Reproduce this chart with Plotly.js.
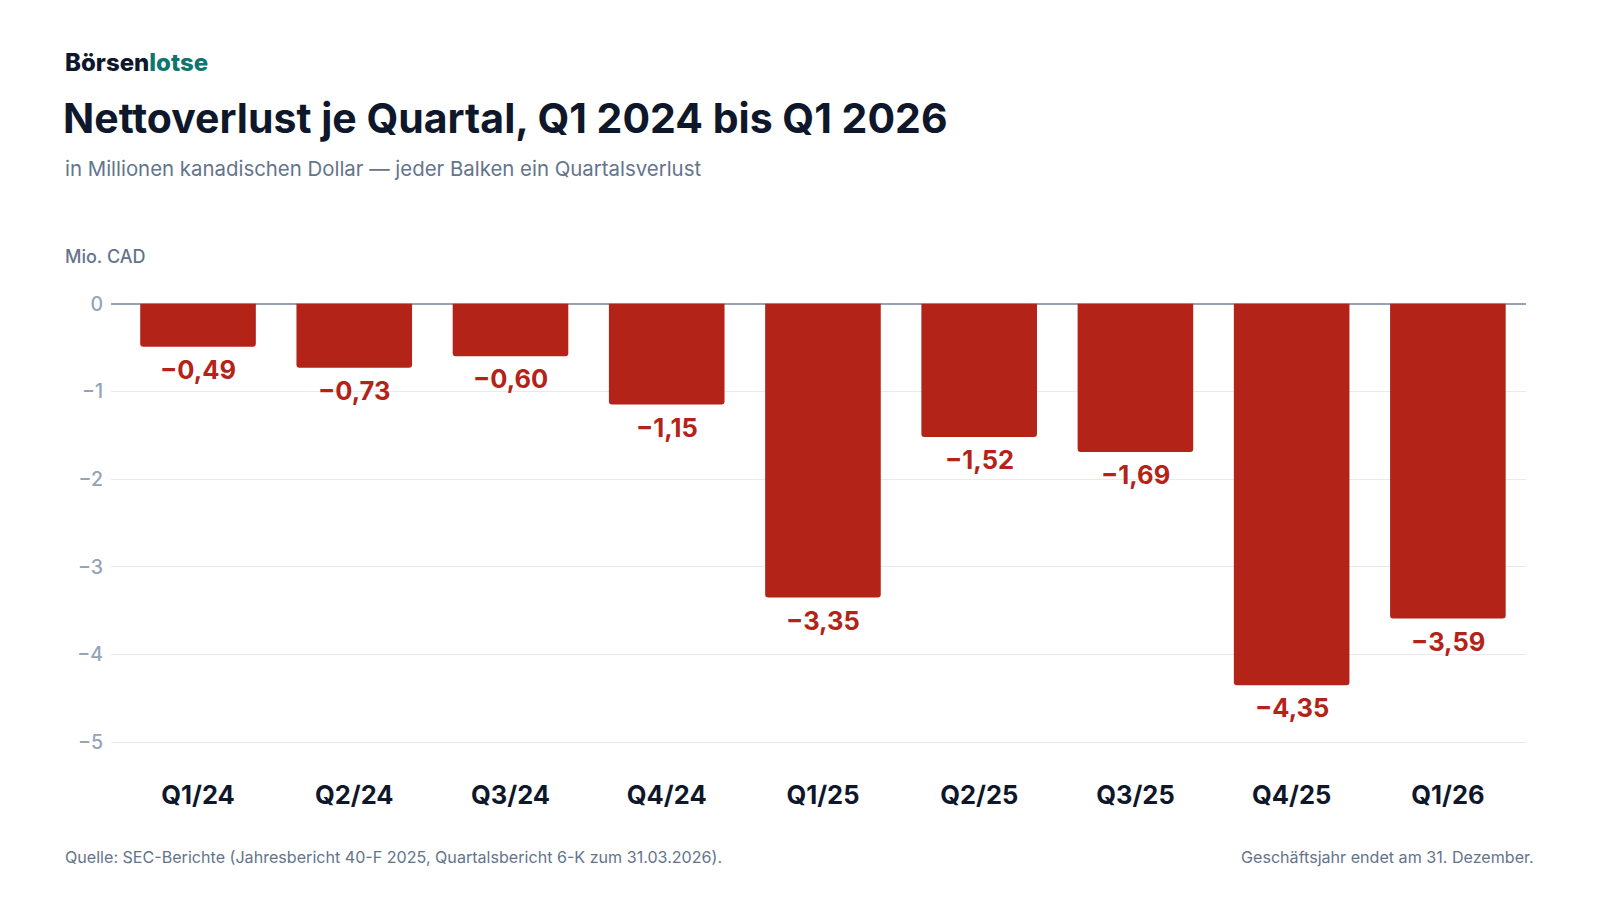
<!DOCTYPE html>
<html>
<head>
<meta charset="utf-8">
<script src="https://cdn.plot.ly/plotly-3.0.1.min.js"></script>
<style>
  html, body { margin: 0; padding: 0; background: #ffffff; }
  #chart { width: 1600px; height: 900px; }
</style>
</head>
<body>
<div id="chart"></div>
<script>
const quarters = ['Q1/24', 'Q2/24', 'Q3/24', 'Q4/24', 'Q1/25', 'Q2/25', 'Q3/25', 'Q4/25', 'Q1/26'];
const netLoss = [-0.49, -0.73, -0.60, -1.15, -3.35, -1.52, -1.69, -4.35, -3.59];
const yTicks = [0, -1, -2, -3, -4, -5];

const W = 1600, H = 900;
const M = { l: 111, r: 74, t: 302, b: 156 };

const RED = '#b42318';
const INK = '#0f172a';
const SLATE = '#64748b';
const FONT = 'Inter, "Noto Sans", sans-serif';

// pixel -> paper helpers for the header / footer texts
function px(x) { return (x - M.l) / (W - M.l - M.r); }
function py(y) { return 1 - (y - M.t) / (H - M.t - M.b); }

function fmt(v, digits) {
    const s = Math.abs(v).toFixed(digits).replace('.', ',');
    return (v < 0 ? '\u2212' : '') + s;
}

const bars = {
    type: 'bar',
    x: quarters,
    y: netLoss,
    width: 0.74,
    marker: { color: RED, cornerradius: 3 },
    hoverinfo: 'none'
};

const valueLabels = quarters.map((q, i) => ({
    x: q,
    y: netLoss[i],
    xref: 'x',
    yref: 'y',
    text: fmt(netLoss[i], 2),
    showarrow: false,
    yanchor: 'top',
    yshift: -5,
    font: { family: FONT, size: 25.5, color: RED, weight: 700 }
}));

function note(text, x, y, size, color, weight, xanchor) {
    return {
        text: text,
        xref: 'paper', yref: 'paper',
        x: px(x), y: py(y),
        xanchor: xanchor || 'left', yanchor: 'middle',
        showarrow: false,
        font: { family: FONT, size: size, color: color, weight: weight }
    };
}

const texts = [
    note('B\u00f6rsen<span style="color:#0f766e">lotse</span>', 63, 62, 24, INK, 800),
    note('Nettoverlust je Quartal, Q1 2024 bis Q1 2026', 61, 118, 41, INK, 700),
    note('in Millionen kanadischen Dollar \u2014 jeder Balken ein Quartalsverlust', 63, 169, 20.4, SLATE, 400),
    note('Mio. CAD', 63, 257, 18, SLATE, 500),
    note('Quelle: SEC-Berichte (Jahresbericht 40-F 2025, Quartalsbericht 6-K zum 31.03.2026).', 63, 857, 16.1, SLATE, 400),
    note('Gesch\u00e4ftsjahr endet am 31. Dezember.', 1536, 857, 16.1, SLATE, 400, 'right')
];

const layout = {
    width: W,
    height: H,
    margin: M,
    paper_bgcolor: '#ffffff',
    plot_bgcolor: '#ffffff',
    separators: ',.',
    showlegend: false,
    font: { family: FONT },
    xaxis: {
        type: 'category',
        range: [-0.557, 8.5],
        showgrid: false,
        showline: false,
        zeroline: false,
        ticks: '',
        ticklabelstandoff: 33,
        tickfont: { family: FONT, size: 25.5, color: INK, weight: 700 },
        fixedrange: true
    },
    yaxis: {
        range: [-5.02, 0.02],
        tickvals: yTicks,
        ticktext: yTicks.map(v => fmt(v, 0)),
        showgrid: true,
        gridcolor: '#e8eaef',
        gridwidth: 1,
        zeroline: true,
        zerolinecolor: '#94a3b8',
        zerolinewidth: 1.5,
        showline: false,
        ticks: '',
        ticklabelstandoff: 7,
        tickfont: { family: FONT, size: 19.5, color: '#94a3b8', weight: 500 },
        fixedrange: true
    },
    annotations: valueLabels.concat(texts)
};

Plotly.newPlot('chart', [bars], layout, { displayModeBar: false, staticPlot: true });
</script>
</body>
</html>
